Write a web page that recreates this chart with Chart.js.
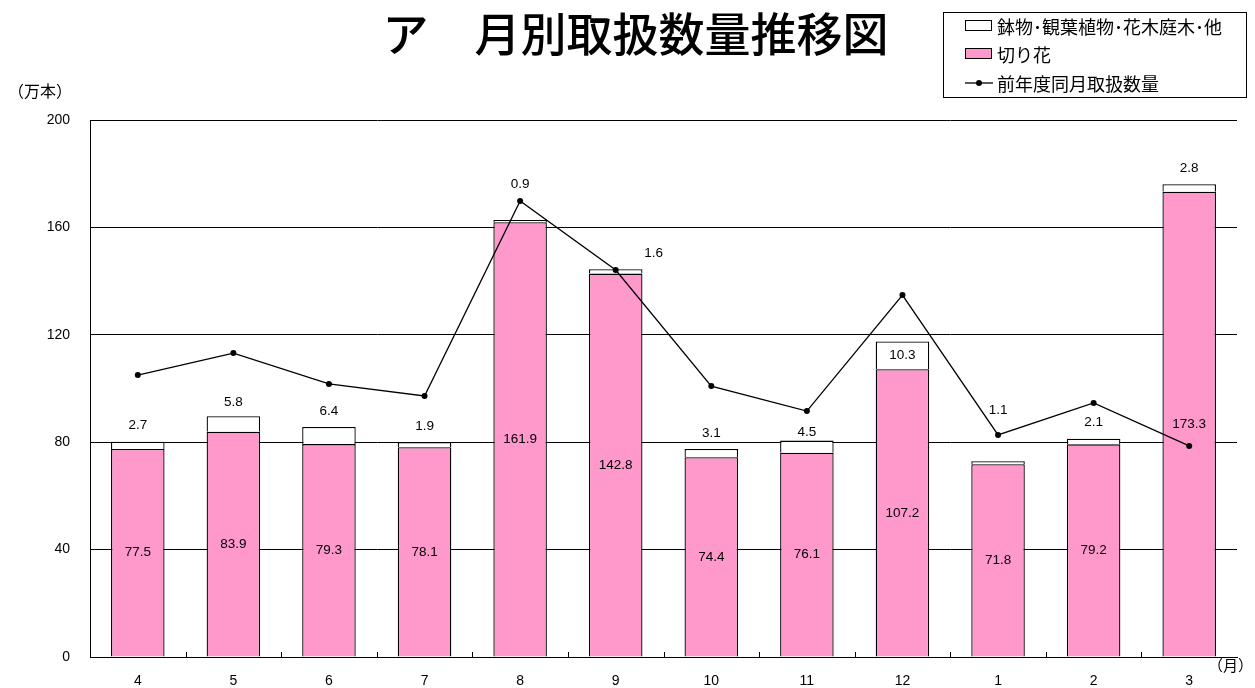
<!DOCTYPE html>
<html><head><meta charset="utf-8">
<script src="https://cdn.jsdelivr.net/npm/chart.js@4"></script>
<style>
body{margin:0;background:#fff;width:1255px;height:688px;overflow:hidden;position:relative;font-family:"Noto Sans CJK JP","Noto Sans",sans-serif;}
#c{position:absolute;left:0;top:0;}
.t{position:absolute;white-space:nowrap;color:#000;}
#title{left:0;width:1271px;text-align:center;top:0px;font-size:46px;line-height:62px;font-weight:500;}
#legend{position:absolute;left:943px;top:12px;width:304px;height:86px;border:1px solid #000;box-sizing:border-box;font-size:18px;}
.li{position:absolute;left:0;height:26px;line-height:26px;width:300px;}
.sw{position:absolute;left:21px;top:7px;width:27px;height:11px;border:1px solid #000;box-sizing:border-box;}
.lt{position:absolute;left:53px;top:0;white-space:nowrap;}
</style></head>
<body>
<canvas id="c" width="1255" height="688"></canvas>
<div class="t" id="title">ア　月別取扱数量推移図</div>
<div id="legend">
  <div class="li" style="top:0px"><div class="sw" style="background:#fff"></div><div class="lt">鉢物･観葉植物･花木庭木･他</div></div>
  <div class="li" style="top:28px"><div class="sw" style="background:#ff99cc"></div><div class="lt">切り花</div></div>
  <div class="li" style="top:57px"><svg style="position:absolute;left:21px;top:6px" width="28" height="14"><line x1="0" y1="7" x2="28" y2="7" stroke="#000" stroke-width="1.3"/><circle cx="14" cy="7" r="3" fill="#000"/></svg><div class="lt">前年度同月取扱数量</div></div>
</div>
<div class="t" style="left:8px;top:78px;font-size:16px;">（万本）</div>
<div class="t" style="left:1208px;top:654px;font-size:15px;">（月）</div>
<script>
const months = ['4','5','6','7','8','9','10','11','12','1','2','3'];
const cutFlowers = [77.5, 83.9, 79.3, 78.1, 161.9, 142.8, 74.4, 76.1, 107.2, 71.8, 79.2, 173.3];
const potPlants = [2.7, 5.8, 6.4, 1.9, 0.9, 1.6, 3.1, 4.5, 10.3, 1.1, 2.1, 2.8];
const prevYear = [105.0, 113.2, 101.7, 97.2, 169.8, 144.1, 100.9, 91.6, 134.8, 82.7, 94.6, 78.6];
const yTicks = [0, 40, 80, 120, 160, 200];

const labelOffsets = {1:[0,2],4:[0,-20],5:[38,0],7:[0,8],9:[0,-35]};

const labelPlugin = {
  id:'labels',
  afterDatasetsDraw(chart){
    const ctx = chart.ctx;
    ctx.save();
    ctx.font = '13.5px "Liberation Sans", Arial, sans-serif';
    ctx.fillStyle = '#000';
    ctx.textAlign = 'center';
    ctx.textBaseline = 'middle';
    const m0 = chart.getDatasetMeta(0), m1 = chart.getDatasetMeta(1);
    m0.data.forEach((b,i)=>{
      ctx.fillText(cutFlowers[i].toFixed(1), b.x, (b.y + b.base)/2);
    });
    m1.data.forEach((b,i)=>{
      const h = b.base - b.y;
      let x = b.x, y;
      if (h > 20) { y = (b.y + b.base)/2; }
      else {
        y = b.y - 16;
        const o = labelOffsets[i];
        if (o) { x += o[0]; y += o[1]; }
      }
      ctx.fillText(potPlants[i].toFixed(1), x, y);
    });
    ctx.restore();
  }
};

const tickPlugin = {
  id:'xticks',
  afterDraw(chart){
    const ctx = chart.ctx, xs = chart.scales.x, ca = chart.chartArea;
    ctx.save();
    ctx.strokeStyle = '#000'; ctx.lineWidth = 1;
    for (let i=1;i<months.length;i++){
      const x = Math.round((xs.getPixelForValue(i-1)+xs.getPixelForValue(i))/2)+0.5;
      ctx.beginPath(); ctx.moveTo(x, ca.bottom); ctx.lineTo(x, ca.bottom-5); ctx.stroke();
    }
    ctx.restore();
  }
};

new Chart(document.getElementById('c'), {
  data:{
    labels: months,
    datasets:[
      {type:'bar', label:'切り花', data:cutFlowers, backgroundColor:'#ff99cc', borderColor:'#000', borderWidth:1.3, barPercentage:0.56, categoryPercentage:1, stack:'s', order:2},
      {type:'bar', label:'鉢物･観葉植物･花木庭木･他', data:potPlants, backgroundColor:'#fff', borderColor:'#000', borderWidth:1.3, barPercentage:0.56, categoryPercentage:1, stack:'s', order:2},
      {type:'line', label:'前年度同月取扱数量', data:prevYear, borderColor:'#000', borderWidth:1.3, pointRadius:3, pointBackgroundColor:'#000', pointBorderWidth:0, tension:0, order:1}
    ]
  },
  options:{
    responsive:false, animation:false, devicePixelRatio:1,
    layout:{padding:{top:120,right:18,left:0,bottom:0}},
    plugins:{legend:{display:false}, tooltip:{enabled:false}, title:{display:false}},
    scales:{
      x:{stacked:true, offset:true,
        grid:{display:false, drawOnChartArea:false},
        border:{display:true,color:'#000',width:1},
        ticks:{color:'#000', font:{size:14, family:'"Liberation Sans", Arial, sans-serif'}, padding:8},
        afterFit(s){ s.height = 31; }
      },
      y:{stacked:true, min:0, max:200,
        afterBuildTicks(s){ s.ticks = yTicks.map(v=>({value:v})); },
        grid:{color:'#000', lineWidth:1, drawTicks:false},
        border:{display:true,color:'#000',width:1},
        ticks:{color:'#000', font:{size:14, family:'"Liberation Sans", Arial, sans-serif'}, padding:20},
        afterFit(s){ s.width = 90; }
      }
    }
  },
  plugins:[labelPlugin, tickPlugin]
});
</script>
</body></html>
